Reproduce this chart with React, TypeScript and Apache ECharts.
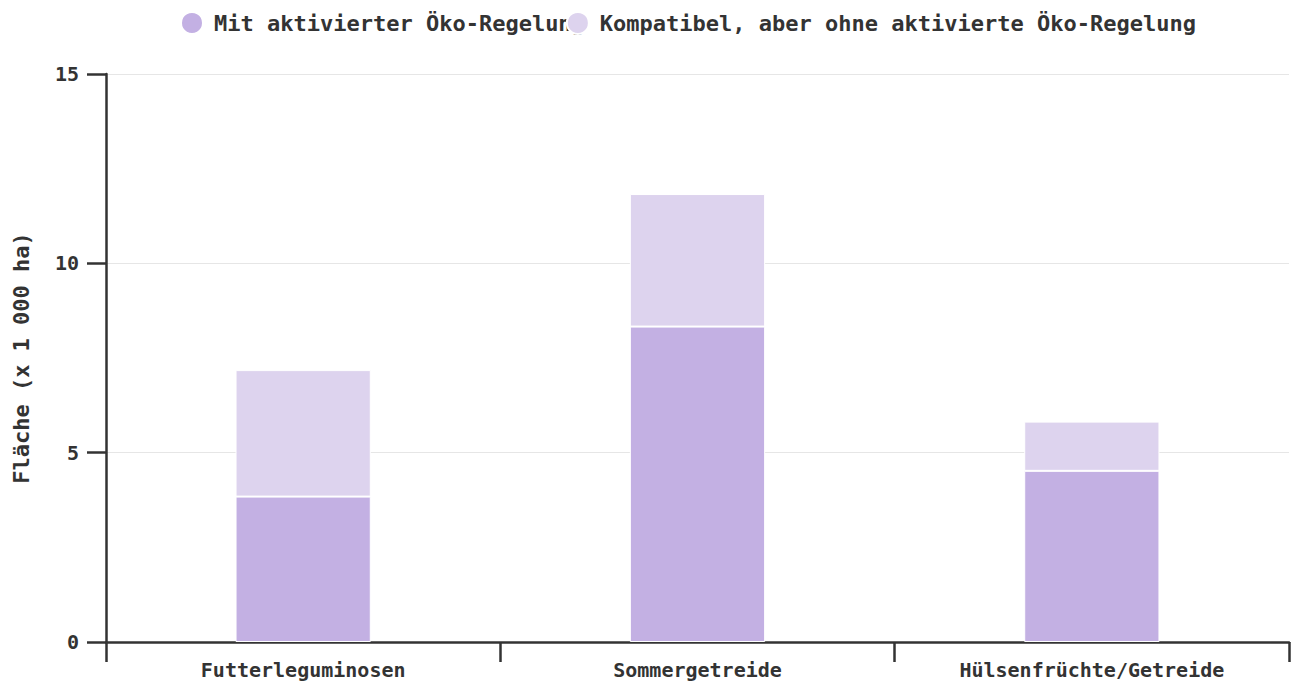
import React, { useEffect, useRef } from "react";
import * as echarts from "echarts";

const categories = ["Futterleguminosen", "Sommergetreide", "Hülsenfrüchte/Getreide"];
const seriesNames = ["Mit aktivierter Öko-Regelung", "Kompatibel, aber ohne aktivierte Öko-Regelung"];
const activeValues = [3.84, 8.33, 4.52];
const compatibleValues = [3.34, 3.5, 1.3];
const yTicks = { min: 0, max: 15, interval: 5 };
const yAxisName = "Fläche (x 1 000 ha)";

const FONT = "'DejaVu Sans Mono', monospace";
const TEXT = "#333333";

export default function App() {
  const ref = useRef<HTMLDivElement>(null);
  useEffect(() => {
    if (!ref.current) return;
    const chart = echarts.init(ref.current, null, { renderer: "svg" });
    chart.setOption({
      animation: false,
      color: ["#c3b0e3", "#ddd3ee"],
      legend: {
        left: 175,
        top: 6,
        icon: "circle",
        itemWidth: 34,
        itemHeight: 22,
        itemGap: -19,
        textStyle: { fontFamily: FONT, fontSize: 22, fontWeight: "bold", color: TEXT },
        data: seriesNames,
      },
      grid: { left: 106, right: 7, top: 74, bottom: 42, containLabel: false },
      xAxis: {
        type: "category",
        data: categories,
        axisLine: { show: true, lineStyle: { color: TEXT, width: 2.5 } },
        axisTick: { show: true, length: 20, lineStyle: { color: TEXT, width: 2.5 } },
        axisLabel: { margin: 18, fontFamily: FONT, fontSize: 20, fontWeight: "bold", color: TEXT },
      },
      yAxis: {
        type: "value",
        min: yTicks.min,
        max: yTicks.max,
        interval: yTicks.interval,
        name: yAxisName,
        nameLocation: "middle",
        nameGap: 74,
        nameTextStyle: { fontFamily: FONT, fontSize: 22, fontWeight: "bold", color: TEXT },
        axisLine: { show: true, lineStyle: { color: TEXT, width: 2.5 } },
        axisTick: { show: true, length: 19, lineStyle: { color: TEXT, width: 2.5 } },
        axisLabel: { margin: 27, fontFamily: FONT, fontSize: 20, fontWeight: "bold", color: TEXT },
        splitLine: { lineStyle: { color: "#e6e6e6", width: 1 } },
      },
      series: [
        {
          name: seriesNames[0],
          type: "bar",
          stack: "total",
          barWidth: "34.3%",
          data: activeValues,
          itemStyle: { borderColor: "#ffffff", borderWidth: 1 },
        },
        {
          name: seriesNames[1],
          type: "bar",
          stack: "total",
          barWidth: "34.3%",
          data: compatibleValues,
          itemStyle: { borderColor: "#ffffff", borderWidth: 1 },
        },
      ],
    });
    return () => chart.dispose();
  }, []);
  return (
    <div
      ref={ref}
      style={{ position: "fixed", left: 0, top: 0, width: 1296, height: 684, background: "#ffffff" }}
    />
  );
}
